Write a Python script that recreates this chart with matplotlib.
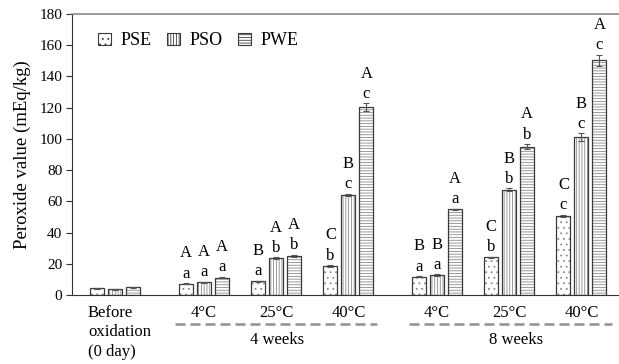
import matplotlib.pyplot as plt
import numpy as np
from matplotlib.patches import Patch

plt.rcParams['font.family'] = ['Liberation Serif', 'DejaVu Serif']
plt.rcParams['hatch.linewidth'] = 0.6

# data
groups = ['Before\noxidation\n(0 day)', '4°C', '25°C', '40°C', '4°C', '25°C', '40°C']
series = ['PSE', 'PSO', 'PWE']
pse = [4.3, 7.2, 8.8, 18.6, 11.7, 24.1, 50.6]
pso = [3.6, 8.1, 23.7, 64.1, 12.8, 67.3, 101.0]
pwe = [4.9, 11.1, 25.0, 120.2, 54.9, 95.0, 150.5]
pse_err = [0.3, 0.3, 0.3, 0.4, 0.3, 0.5, 0.8]
pso_err = [0.3, 0.3, 0.4, 0.5, 0.4, 1.0, 2.5]
pwe_err = [0.2, 0.3, 0.8, 2.5, 0.4, 1.5, 3.5]
lower = [['', '', ''], ['a', 'a', 'a'], ['a', 'b', 'b'], ['b', 'c', 'c'],
         ['a', 'a', 'a'], ['b', 'b', 'b'], ['c', 'c', 'c']]
upper = [['', '', ''], ['A', 'A', 'A'], ['B', 'A', 'A'], ['C', 'B', 'A'],
         ['B', 'B', 'A'], ['C', 'B', 'A'], ['C', 'B', 'A']]
periods = ['4 weeks', '8 weeks']

values = [pse, pso, pwe]
errors = [pse_err, pso_err, pwe_err]
hatches = ['...', '||||||', '------']

centers = np.array([0, 1.225, 2.225, 3.225, 4.45, 5.45, 6.45])
step = 0.249
width = 0.194

fig = plt.figure(figsize=(6.19, 3.64), dpi=100)
ax = fig.add_axes([72 / 619, 1 - 295 / 364, 1 - 72 / 619, 281 / 364])

edge = '#3a3a3a'
hcol = '#8a8a8a'
for s in range(3):
    xs = centers + (s - 1) * step
    ax.bar(xs, values[s], width, color='white', edgecolor=hcol, hatch=hatches[s], lw=0)
    ax.bar(xs, values[s], width, fill=False, edgecolor=edge, lw=0.9)
    ax.errorbar(xs, values[s], yerr=errors[s], fmt='none', ecolor='#555555',
                elinewidth=0.8, capsize=2, capthick=0.8)
    for i in range(len(centers)):
        top = values[s][i] + errors[s][i]
        ax.annotate(lower[i][s], (xs[i], top), xytext=(0, 7), textcoords='offset points',
                    ha='center', va='center', fontsize=12)
        ax.annotate(upper[i][s], (xs[i], top), xytext=(0, 21.5), textcoords='offset points',
                    ha='center', va='center', fontsize=12)

ax.set_xlim(-0.60, 6.97)
ax.set_ylim(0, 180)
ax.set_yticks(np.arange(0, 181, 20))
ax.tick_params(axis='y', labelsize=11, length=4, width=0.8, color='#333333', pad=3)
ax.set_xticks([])
ax.spines['right'].set_visible(False)
ax.spines['top'].set_color('#8a8a8a')
ax.spines['top'].set_linewidth(1.2)
ax.spines['left'].set_color('#333333')
ax.spines['bottom'].set_color('#333333')
ax.set_ylabel('Peroxide value (mEq/kg)', fontsize=13.5, labelpad=6)

trans = ax.get_xaxis_transform()
ax.text(-0.38, -0.035, groups[0], transform=trans, ha='left', va='top',
        fontsize=12, linespacing=1.3)
for i in range(1, len(groups)):
    ax.text(centers[i], -0.064, groups[i], transform=trans, ha='center', va='center', fontsize=12)

for (x0, x1), xt, label in zip([(0.824, 3.62), (4.065, 6.87)], [2.236, 5.55], periods):
    ax.plot([x0, x1], [-0.103, -0.103], transform=trans, color='#909090', lw=1.8,
            dashes=(4, 2), clip_on=False)
    ax.text(xt, -0.16, label, transform=trans, ha='center', va='center', fontsize=12)

handles = [Patch(facecolor='white', edgecolor=edge, hatch=h, lw=0.8) for h in hatches]
ax.legend(handles, series, loc='center left', bbox_to_anchor=(0.035, 0.904), ncol=3,
          frameon=False, fontsize=13, handlelength=0.7, handleheight=0.7,
          handletextpad=0.5, columnspacing=0.9, borderaxespad=0)

fig.savefig('out.png', dpi=100)
